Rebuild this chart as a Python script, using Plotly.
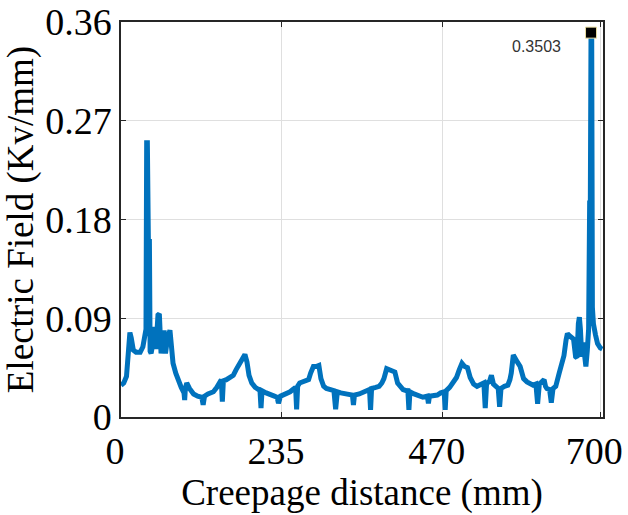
import plotly.graph_objects as go

# Creepage distance (mm)
distance = [0, 4, 8, 11, 13, 15, 18, 22, 28, 32, 35, 36.5, 37.5, 38.5, 40, 41.5, 42.5, 44, 46, 48.5,
            51, 54, 56, 58.5, 61, 63, 65, 68, 71.5, 74, 76, 80, 84, 88, 92, 93, 94, 96, 100, 106,
            112, 118, 120, 122, 127, 135, 140, 144, 146.5, 148, 149.5, 154, 159, 164, 168, 171, 176, 181, 184, 187,
            191, 196, 201, 203, 204.5, 206, 212, 218, 224, 228, 230, 233, 237, 242, 247, 251, 255, 256.5, 258, 261,
            268, 274, 277, 281, 285, 289, 292, 296, 300, 306, 311, 313.5, 316, 321, 328, 334, 338, 339.5, 341, 348,
            353, 356, 363, 364.5, 366, 372, 377, 381, 384, 388, 392, 396, 400, 404, 408, 412, 417, 419, 420.5, 422,
            428, 436, 441, 447.5, 449, 450.5, 456, 462, 467, 472, 473.5, 475, 480, 485, 490, 494, 498, 502, 506, 510,
            515, 520, 526, 530, 532, 534, 538, 541, 544, 548, 551, 553, 555, 560, 565, 568, 570, 573, 576, 579,
            583, 588, 593, 598, 602, 606, 608.5, 611, 615, 618, 620, 622, 626, 628.5, 631, 635, 640, 644, 647, 650,
            652, 655, 658, 661, 664, 666, 668, 669.5, 671, 673, 675, 677, 679, 681, 683, 684.5, 685.5, 686.5, 687.5, 688.5,
            690, 693, 696, 700, 703]

# Electric field (kV/mm)
field = [0.029, 0.031, 0.037, 0.055, 0.077, 0.072, 0.061, 0.059, 0.059, 0.064, 0.072, 0.080, 0.25, 0.25, 0.16, 0.16, 0.06, 0.058, 0.065, 0.082,
         0.062, 0.093, 0.094, 0.058, 0.070, 0.079, 0.058, 0.072, 0.079, 0.065, 0.049, 0.040, 0.032, 0.027, 0.022, 0.0155, 0.026, 0.031, 0.026, 0.021,
         0.019, 0.018, 0.011, 0.019, 0.021, 0.023, 0.027, 0.033, 0.034, 0.014, 0.033, 0.034, 0.036, 0.038, 0.043, 0.046, 0.052, 0.057, 0.050, 0.038,
         0.031, 0.027, 0.025, 0.024, 0.008, 0.024, 0.022, 0.021, 0.019, 0.018, 0.0125, 0.019, 0.020, 0.022, 0.023, 0.025, 0.027, 0.007, 0.028, 0.031,
         0.032, 0.034, 0.040, 0.046, 0.046, 0.047, 0.035, 0.028, 0.026, 0.025, 0.024, 0.007, 0.023, 0.022, 0.021, 0.020, 0.020, 0.011, 0.020, 0.021,
         0.022, 0.023, 0.025, 0.0065, 0.026, 0.027, 0.028, 0.031, 0.035, 0.044, 0.043, 0.043, 0.041, 0.031, 0.027, 0.025, 0.024, 0.024, 0.0065, 0.023,
         0.021, 0.019, 0.018, 0.019, 0.0125, 0.019, 0.019, 0.020, 0.022, 0.023, 0.0065, 0.024, 0.027, 0.031, 0.036, 0.043, 0.049, 0.046, 0.045, 0.036,
         0.030, 0.028, 0.030, 0.031, 0.008, 0.031, 0.032, 0.038, 0.030, 0.027, 0.026, 0.0094, 0.026, 0.028, 0.029, 0.034, 0.040, 0.0565, 0.054, 0.050,
         0.046, 0.035, 0.032, 0.030, 0.029, 0.030, 0.012, 0.030, 0.032, 0.034, 0.028, 0.026, 0.025, 0.013, 0.026, 0.028, 0.040, 0.050, 0.056, 0.070,
         0.076, 0.074, 0.073, 0.071, 0.055, 0.054, 0.085, 0.091, 0.080, 0.055, 0.068, 0.060, 0.046, 0.060, 0.080, 0.195, 0.195, 0.3503, 0.3503, 0.10,
         0.085, 0.075, 0.067, 0.063, 0.062]

peak_x = [686.5]
peak_y = [0.3503]
peak_label = "0.3503"

x_ticks = [0, 235, 470, 700]
y_ticks = [0, 0.09, 0.18, 0.27, 0.36]
y_tick_text = ["0", "0.09", "0.18", "0.27", "0.36"]

serif = "Liberation Serif, Times New Roman, serif"

fig = go.Figure()
fig.add_trace(go.Scatter(x=distance, y=field, mode="lines",
                         line=dict(color="#0072BD", width=5), showlegend=False))
fig.add_trace(go.Scatter(x=peak_x, y=peak_y, mode="markers",
                         marker=dict(symbol="square", size=11, color="black",
                                     line=dict(color="#e8dca0", width=1)),
                         showlegend=False))
fig.add_annotation(x=607, y=0.338, text=peak_label, showarrow=False,
                   font=dict(family="Liberation Sans, Arial, sans-serif", size=16, color="#333333"))

axis_common = dict(showline=True, linecolor="#262626", linewidth=1.5, mirror="ticks",
                   ticks="inside", ticklen=5, tickcolor="#262626",
                   showgrid=True, gridcolor="#dfdfdf", gridwidth=1, zeroline=False,
                   automargin=False,
                   tickfont=dict(family=serif, size=38, color="black"))

fig.update_xaxes(range=[0, 704], tickvals=x_ticks, ticktext=[str(v) for v in x_ticks],
                 title=dict(text="Creepage distance (mm)", font=dict(family=serif, size=37, color="black"),
                            standoff=4),
                 ticklabelshift=-6, **axis_common)
fig.update_yaxes(range=[0, 0.36], tickvals=y_ticks, ticktext=y_tick_text,
                 title=dict(text="Electric Field (Kv/mm)", font=dict(family=serif, size=37, color="black"),
                            standoff=2),
                 **axis_common)

fig.update_layout(width=628, height=515, margin=dict(l=121, r=25, t=22, b=98),
                  plot_bgcolor="white", paper_bgcolor="white")

fig.write_html("out.html")
